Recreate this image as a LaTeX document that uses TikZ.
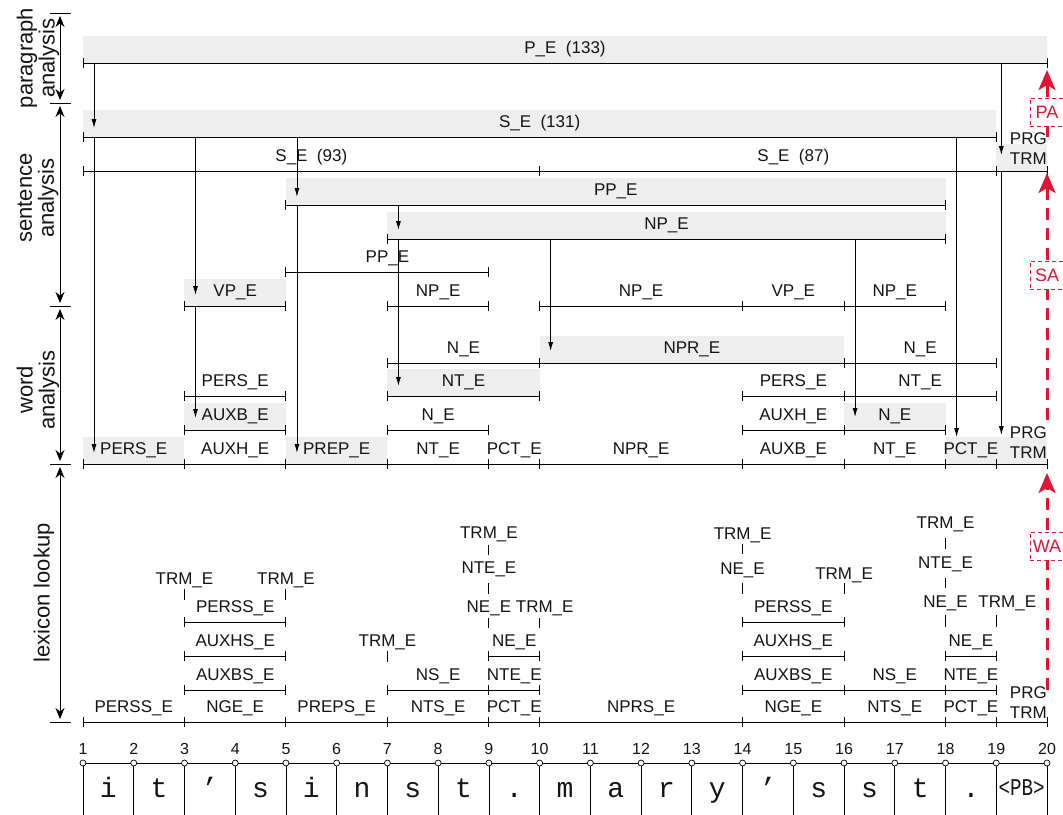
\documentclass[tikz,border=0pt]{standalone}
\usepackage{fontspec}
\setmainfont{Liberation Sans}
\newfontfamily\monof{Liberation Mono}
\usetikzlibrary{arrows.meta}
\definecolor{boxgray}{RGB}{238,238,238}
\definecolor{redc}{RGB}{224,20,55}
\definecolor{txt}{RGB}{20,20,20}
\newcommand\GBox[3]{\fill[boxgray] (#1,#3-27) rectangle (#2,#3);}
\newcommand\Seg[5]{%
  \draw[segl] (#2,#4) -- (#3,#4) (#2,#4-5) -- (#2,#4+5) (#3,#4-5) -- (#3,#4+5);
  \node[lbl] (#1) at ({(#2+#3)/2},#4-9.5) {#5};}
\newcommand\Lab[4]{\node[lbl] (#1) at (#2,#3+6) {#4};}
\begin{document}
\begin{tikzpicture}[x=1pt,y=-1pt,
  segl/.style={line width=1pt, black},
  lbl/.style={font=\fontsize{17}{20}\selectfont, anchor=base, inner sep=0pt, text=txt},
  prg/.style={font=\fontsize{17}{20}\selectfont, anchor=base east, inner sep=0pt, text=txt, align=right},
  num/.style={font=\fontsize{16}{18}\selectfont, anchor=base, inner sep=0pt, text=txt},
  letr/.style={font=\monof\fontsize{28}{30}\selectfont, anchor=base, inner sep=0pt, text=txt},
  arr/.style={line width=0.9pt, -{Latex[length=9pt,width=5pt]}},
  axarr/.style={line width=1pt, {Stealth[length=11pt,width=9pt]}-{Stealth[length=11pt,width=9pt]}, shorten <=3pt, shorten >=3pt},
  axlbl/.style={rotate=90, align=center, font=\fontsize{22}{22}\selectfont, text=txt, inner sep=0pt},
  dsh/.style={line width=1pt},
  redarr/.style={draw=redc, line width=3pt, dash pattern=on 12pt off 8pt, -{Stealth[length=20pt,width=17pt,inset=5pt]}},
  redbox/.style={draw=redc, dash pattern=on 4pt off 3pt, line width=1pt, text=redc, font=\fontsize{18}{20}\selectfont, minimum width=34pt, minimum height=28pt, inner sep=0pt, fill=white},
]
\useasboundingbox (0,0) rectangle (1063,814);
\clip (0,0) rectangle (1063,814);
% left axis
\foreach \yy [count=\k] in {13,103,306,464,722}{
  \draw[line width=1pt] (50,\yy) -- (71,\yy);
  \coordinate (ax\k) at (60,\yy);}
\draw[axarr] (ax1) -- (ax2);
\draw[axarr] (ax2) -- (ax3);
\draw[axarr] (ax3) -- (ax4);
\draw[axarr] (ax4) -- (ax5);
\node[axlbl] (lpa) at (38,58) {paragraph\\analysis};
\node[axlbl] (lsa) at (38,198) {sentence\\analysis};
\node[axlbl] (lwa) at (38,390) {word\\analysis};
\node[axlbl] (lll) at (44,593) {lexicon lookup};

\begin{scope}[x=50.737pt, xshift=32.263pt]
\def\o{0.217}
% gray boxes
\GBox{1}{20}{63}
\GBox{1}{19}{137}
\GBox{19}{20}{171}
\GBox{5}{18}{205}
\GBox{7}{18}{239}
\GBox{3}{5}{306}
\GBox{10}{16}{363}
\GBox{7}{10}{396}
\GBox{3}{5}{430}
\GBox{16}{18}{430}
\GBox{1}{3}{464}
\GBox{5}{7}{464}
\GBox{18}{19}{464}
\GBox{19}{20}{464}
% paragraph / sentence
\Seg{pe}{1}{20}{63}{P\_E~~(133)}
\Seg{s131}{1}{19}{137}{S\_E~~(131)}
\Seg{s93}{1}{10}{171}{S\_E~~(93)}
\Seg{s87}{10}{20}{171}{S\_E~~(87)}
\draw[segl] (19,166) -- (19,176);
\node[prg] (prgA) at (20,164) {PRG\\TRM};
\Seg{pp1}{5}{18}{205}{PP\_E}
\Seg{np1}{7}{18}{239}{NP\_E}
\Seg{pp2}{5}{9}{272}{PP\_E}
\Seg{vp1}{3}{5}{306}{VP\_E}
\Seg{np2}{7}{9}{306}{NP\_E}
\Seg{np3}{10}{14}{306}{NP\_E}
\Seg{vp2}{14}{16}{306}{VP\_E}
\Seg{np4}{16}{18}{306}{NP\_E}
% word
\Seg{ne1}{7}{10}{363}{N\_E}
\Seg{npr1}{10}{16}{363}{NPR\_E}
\Seg{ne2}{16}{19}{363}{N\_E}
\Seg{pers1}{3}{5}{396}{PERS\_E}
\Seg{nt1}{7}{10}{396}{NT\_E}
\Seg{pers2}{14}{16}{396}{PERS\_E}
\Seg{nt2}{16}{19}{396}{NT\_E}
\Seg{auxb1}{3}{5}{430}{AUXB\_E}
\Seg{ne3}{7}{9}{430}{N\_E}
\Seg{auxh1}{14}{16}{430}{AUXH\_E}
\Seg{ne4}{16}{18}{430}{N\_E}
\Seg{w1}{1}{3}{464}{PERS\_E}
\Seg{w2}{3}{5}{464}{AUXH\_E}
\Seg{w3}{5}{7}{464}{PREP\_E}
\Seg{w4}{7}{9}{464}{NT\_E}
\Seg{w5}{9}{10}{464}{PCT\_E}
\Seg{w6}{10}{14}{464}{NPR\_E}
\Seg{w7}{14}{16}{464}{AUXB\_E}
\Seg{w8}{16}{18}{464}{NT\_E}
\Seg{w9}{18}{19}{464}{PCT\_E}
\Seg{w10}{19}{20}{464}{}
\node[prg] (prgB) at (20,458) {PRG\\TRM};
% lexicon
\Seg{l1}{3}{5}{622}{PERSS\_E}
\Seg{l2}{14}{16}{622}{PERSS\_E}
\Seg{l3}{3}{5}{656}{AUXHS\_E}
\Seg{l4}{9}{10}{656}{NE\_E}
\Seg{l5}{14}{16}{656}{AUXHS\_E}
\Seg{l6}{18}{19}{656}{NE\_E}
\Seg{l7}{3}{5}{690}{AUXBS\_E}
\Seg{l8}{7}{9}{690}{NS\_E}
\Seg{l9}{9}{10}{690}{NTE\_E}
\Seg{l10}{14}{16}{690}{AUXBS\_E}
\Seg{l11}{16}{18}{690}{NS\_E}
\Seg{l12}{18}{19}{690}{NTE\_E}
\Seg{b1}{1}{3}{722}{PERSS\_E}
\Seg{b2}{3}{5}{722}{NGE\_E}
\Seg{b3}{5}{7}{722}{PREPS\_E}
\Seg{b4}{7}{9}{722}{NTS\_E}
\Seg{b5}{9}{10}{722}{PCT\_E}
\Seg{b6}{10}{14}{722}{NPRS\_E}
\Seg{b7}{14}{16}{722}{NGE\_E}
\Seg{b8}{16}{18}{722}{NTS\_E}
\Seg{b9}{18}{19}{722}{PCT\_E}
\Seg{b10}{19}{20}{722}{}
\node[prg] (prgC) at (20,718) {PRG\\TRM};
% lexicon alternatives
\Lab{t3}{3}{578}{TRM\_E}
\Lab{t5}{5}{578}{TRM\_E}
\Lab{t7}{7}{640}{TRM\_E}
\Lab{t9a}{9}{532}{TRM\_E}
\Lab{t9b}{9}{567}{NTE\_E}
\Lab{t9c}{9}{606}{NE\_E}
\Lab{t10}{10.1}{606}{TRM\_E}
\Lab{t14a}{14}{533}{TRM\_E}
\Lab{t14b}{14}{568}{NE\_E}
\Lab{t16}{16}{573}{TRM\_E}
\Lab{t18a}{18}{522}{TRM\_E}
\Lab{t18b}{18}{562}{NTE\_E}
\Lab{t18c}{18}{601}{NE\_E}
\Lab{t19}{19.217}{601}{TRM\_E}
\foreach \x/\a/\b in {3/589/600, 5/589/600, 7/651/662, 9/545/555, 9/583/594, 9/618/628, 10/618/628, 14/544/554, 14/583/594, 16/583/594, 18/538/549, 18/578/588, 18/615/627, 19/615/627}
  \draw[dsh] (\x,\a) -- (\x,\b);
% analysis arrows
\draw[arr] (1+\o,63) -- (1+\o,128);
\draw[arr] (1+\o,137) -- (1+\o,453);
\draw[arr] (3+\o,137) -- (3+\o,295);
\draw[arr] (3+\o,306) -- (3+\o,418);
\draw[arr] (5+\o,137) -- (5+\o,197);
\draw[arr] (5+\o,205) -- (5+\o,453);
\draw[arr] (7+\o,205) -- (7+\o,230);
\draw[arr] (7+\o,239) -- (7+\o,386);
\draw[arr] (10+\o,239) -- (10+\o,351);
\draw[arr] (16+\o,239) -- (16+\o,417);
\draw[arr] (18+\o,137) -- (18+\o,437);
\draw[arr] (19.1,63) -- (19.1,155);
\draw[arr] (19.1,171) -- (19.1,435);
% red
\coordinate (pa0) at (20,137); \coordinate (pa1) at (20,70);
\coordinate (sa0) at (20,420); \coordinate (sa1) at (20,173);
\coordinate (wa0) at (20,690); \coordinate (wa1) at (20,473);
\draw[redarr] (pa0) -- (pa1);
\draw[redarr] (sa0) -- (sa1);
\draw[redarr] (wa0) -- (wa1);
\node[redbox] (PA) at (20,112) {PA};
\node[redbox] (SA) at (20,275) {SA};
\node[redbox] (WA) at (20,546) {WA};
% text row
\draw[segl] (1,763) -- (20,763);
\foreach \i in {1,...,20}{
  \draw[line width=0.8pt] (\i,763) -- (\i,830);
  \node[num] (n\i) at (\i,754) {\i};
  \draw[fill=white, line width=0.7pt] (\i,763) circle[radius=3pt];}
\foreach \c [count=\k] in {i,t,’,s,i,n,s,t,.,m,a,r,y,’,s,s,t,.}
  \node[letr] (c\k) at (\k+0.5,797) {\c};
\node[letr, font=\monof\fontsize{24}{26}\selectfont, xscale=0.8] (c19) at (19.5,795) {<PB>};
\end{scope}
\end{tikzpicture}
\end{document}
